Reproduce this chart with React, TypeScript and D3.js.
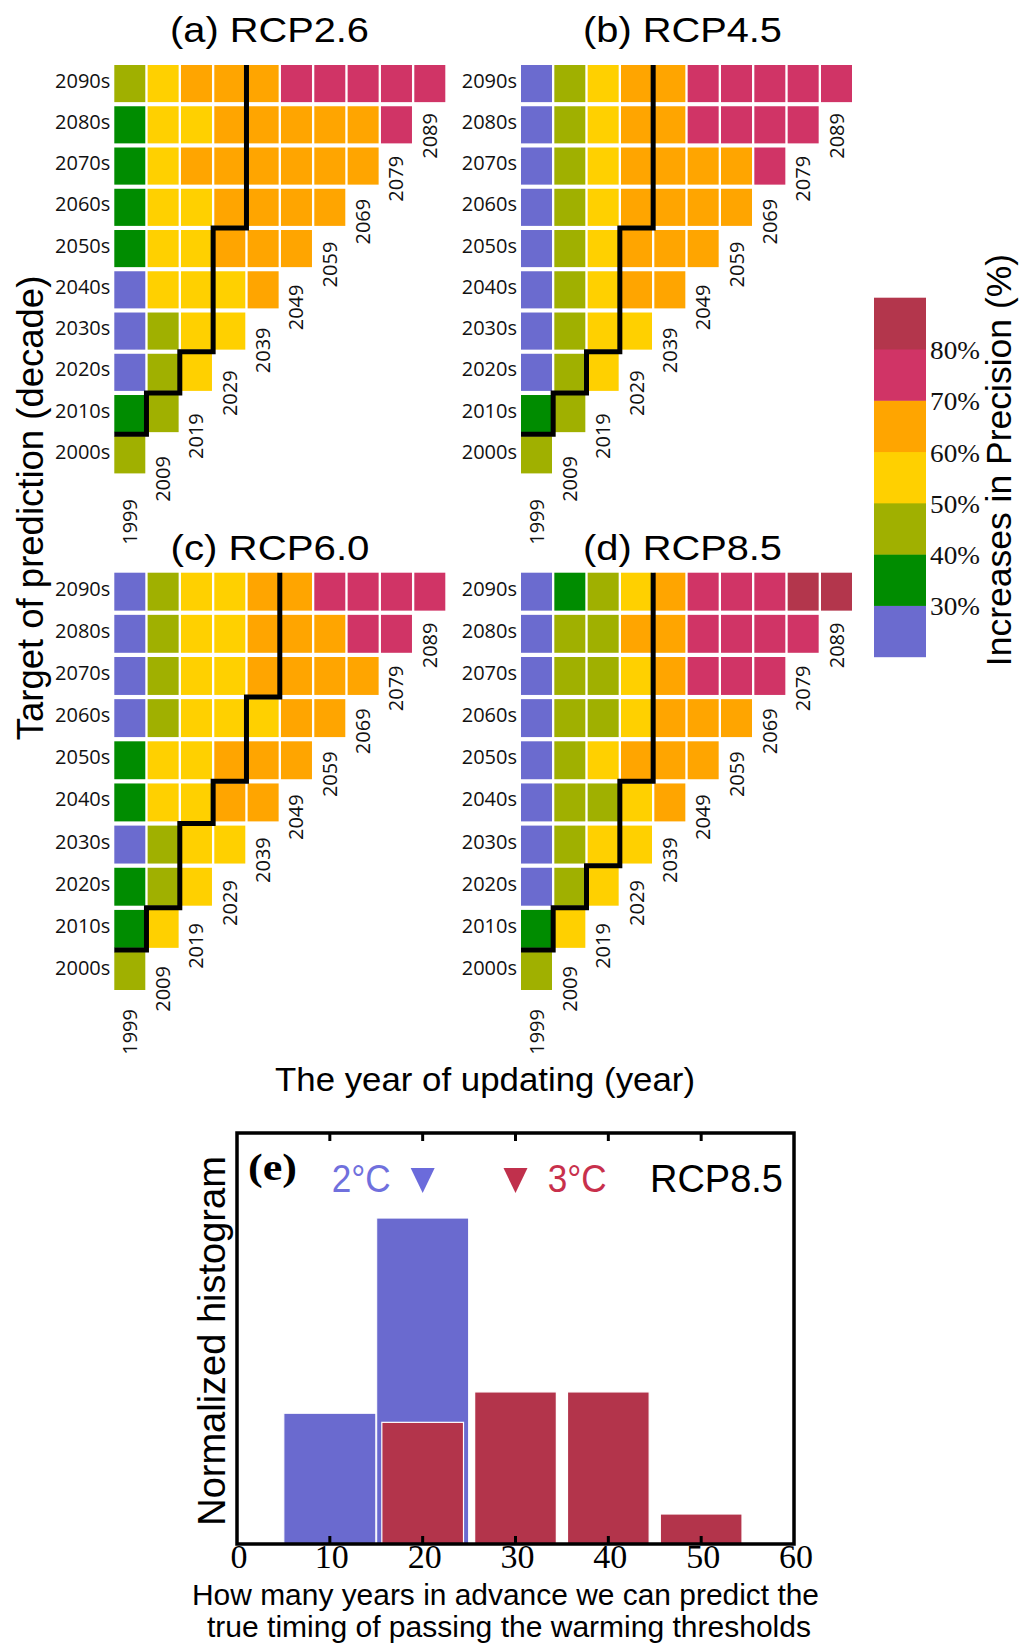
import * as d3 from "d3";

// ---- data ----
const decades = ["2000s", "2010s", "2020s", "2030s", "2040s", "2050s", "2060s", "2070s", "2080s", "2090s"];
const updateYears = ["1999", "2009", "2019", "2029", "2039", "2049", "2059", "2069", "2079", "2089"];
const levelColors = ["#6b6bcf", "#008c00", "#a0b000", "#ffd000", "#ffa500", "#d03466", "#b3364c"];
const levelTicks = ["30%", "40%", "50%", "60%", "70%", "80%"];
const panelTitles = ["(a) RCP2.6", "(b) RCP4.5", "(c) RCP6.0", "(d) RCP8.5"];

// colour class of each cell: one row per target decade (2000s first), one entry per update year
const rcp26 = [
  [2],
  [1, 2],
  [0, 2, 3],
  [0, 2, 3, 3],
  [0, 3, 3, 3, 4],
  [1, 3, 3, 4, 4, 4],
  [1, 3, 3, 4, 4, 4, 4],
  [1, 3, 4, 4, 4, 4, 4, 4],
  [1, 3, 3, 4, 4, 4, 4, 4, 5],
  [2, 3, 4, 4, 4, 5, 5, 5, 5, 5],
];
const rcp45 = [
  [2],
  [1, 2],
  [0, 2, 3],
  [0, 2, 3, 3],
  [0, 2, 3, 4, 4],
  [0, 2, 3, 4, 4, 4],
  [0, 2, 3, 4, 4, 4, 4],
  [0, 2, 3, 4, 4, 4, 4, 5],
  [0, 2, 3, 4, 4, 5, 5, 5, 5],
  [0, 2, 3, 4, 4, 5, 5, 5, 5, 5],
];
const rcp60 = [
  [2],
  [1, 3],
  [1, 2, 3],
  [0, 2, 3, 3],
  [1, 3, 3, 4, 4],
  [1, 3, 3, 4, 4, 4],
  [0, 2, 3, 3, 3, 4, 4],
  [0, 2, 3, 3, 4, 4, 4, 4],
  [0, 2, 3, 3, 4, 4, 4, 5, 5],
  [0, 2, 3, 3, 4, 4, 5, 5, 5, 5],
];
const rcp85 = [
  [2],
  [1, 3],
  [0, 2, 3],
  [0, 2, 3, 3],
  [0, 2, 2, 3, 4],
  [0, 2, 3, 4, 4, 4],
  [0, 2, 2, 3, 4, 4, 4],
  [0, 2, 2, 3, 4, 5, 5, 5],
  [0, 2, 2, 4, 4, 5, 5, 5, 5],
  [0, 1, 2, 3, 4, 5, 5, 5, 6, 6],
];

// column boundary of the black staircase, per target decade
const rcp26Steps = [0, 1, 2, 3, 3, 3, 4, 4, 4, 4];
const rcp45Steps = [0, 1, 2, 3, 3, 3, 4, 4, 4, 4];
const rcp60Steps = [0, 1, 2, 2, 3, 4, 4, 5, 5, 5];
const rcp85Steps = [0, 1, 2, 3, 3, 4, 4, 4, 4, 4];

// histogram (e)
const histTicks = [0, 10, 20, 30, 40, 50, 60];
const bins2C = [10, 20];
const hist2C = [0.318, 0.793];
const bins3C = [20, 30, 40, 50];
const hist3C = [0.296, 0.37, 0.37, 0.073];
const thresholdMarks = [20, 30]; // 2°C, 3°C

const SANS = "'Liberation Sans', Arial, sans-serif";
const SERIF = "'Liberation Serif', 'Times New Roman', serif";
const LABEL = "'Open Sans', sans-serif";

// grid boxes; lab0/lab9 = where the rotated year labels end (under first / last column)
const panelBoxes = [
  { x0: 114.3, x1: 445.3, y0: 65, y1: 473.4, tx: 269.5, ty: 42, lab0: 499, lab9: 113 },
  { x0: 521, x1: 852, y0: 65, y1: 473.4, tx: 682.5, ty: 42, lab0: 499, lab9: 113 },
  { x0: 114.3, x1: 445.3, y0: 572.7, y1: 990, tx: 270, ty: 560, lab0: 1009, lab9: 622.5 },
  { x0: 521, x1: 852, y0: 572.7, y1: 990, tx: 682.5, ty: 560, lab0: 1009, lab9: 622.5 },
];

function Panel({ cells, steps, title, box }: { cells: number[][]; steps: number[]; title: string; box: any }) {
  const x = d3.scaleBand<number>().domain(d3.range(10)).range([box.x0, box.x1]).paddingInner(0.07);
  const y = d3.scaleBand<number>().domain(d3.range(9, -1, -1)).range([box.y0, box.y1]).paddingInner(0.1);
  const labY = d3.scaleLinear().domain([0, 9]).range([box.lab0, box.lab9]);
  const gx = x.step() - x.bandwidth();
  const gy = y.step() - y.bandwidth();
  const xb = (k: number) => (k === 0 ? x(0)! : x(k)! - gx / 2);
  const below = (r: number) => y(r)! + y.bandwidth() + gy / 2;

  const pts: [number, number][] = [];
  for (let r = 1; r < 10; r++) {
    pts.push([xb(steps[r - 1]), below(r)]);
    pts.push([xb(steps[r]), below(r)]);
  }
  pts.push([xb(steps[9]), y(9)!]);
  const stair = d3.line()(pts)!;

  return (
    <g>
      <text x={box.tx} y={box.ty} textAnchor="middle" fontFamily={SANS} fontSize={35}
        textLength={199} lengthAdjust="spacingAndGlyphs">{title}</text>
      {cells.map((row, r) =>
        row.map((c, j) => (
          <rect key={`${r}-${j}`} x={x(j)} y={y(r)} width={x.bandwidth()} height={y.bandwidth()} fill={levelColors[c]} />
        ))
      )}
      {decades.map((d, r) => (
        <text key={d} x={box.x0 - 4} y={y(r)! + y.bandwidth() / 2 + 4} textAnchor="end"
          fontFamily={LABEL} fontSize={20} fill="#111">{d}</text>
      ))}
      {updateYears.map((yr, j) => (
        <text key={yr} transform={`translate(${x(j)! + x.bandwidth() / 2 + 7},${labY(j)}) rotate(-90)`}
          textAnchor="end" fontFamily={LABEL} fontSize={20} fill="#111">{yr}</text>
      ))}
      <path d={stair} fill="none" stroke="#000" strokeWidth={5} strokeLinejoin="miter" />
    </g>
  );
}

function ColorBar() {
  const y = d3.scaleBand<number>().domain(d3.range(6, -1, -1)).range([297.7, 656.7]);
  return (
    <g>
      {levelColors.map((c, i) => (
        <rect key={c} x={874} y={y(i)} width={52} height={y.bandwidth() + 0.5} fill={c} />
      ))}
      {levelTicks.map((t, k) => (
        <text key={t} x={930} y={y(k)! + 10} fontFamily={SERIF} fontSize={25}
          textLength={50} lengthAdjust="spacingAndGlyphs" fill="#111">{t}</text>
      ))}
      <text transform="translate(1011,460) rotate(-90)" textAnchor="middle" fontFamily={SANS} fontSize={35.5}>
        Increases in Precision (%)
      </text>
    </g>
  );
}

function Histogram() {
  const hx = d3.scaleLinear().domain([0, 60]).range([237, 794]);
  const hy = d3.scaleLinear().domain([0, 1]).range([1544, 1133]);
  const blue = "#6a6acf";
  const red = "#b3344b";
  const tri = (v: number) => {
    const cx = hx(v);
    return d3.line()([[cx - 12, 1168], [cx + 12, 1168], [cx, 1193]])! + "Z";
  };
  return (
    <g>
      {bins2C.map((b, i) => (
        <rect key={`b${b}`} x={hx(b - 4.95)} y={hy(hist2C[i])} width={hx(b + 4.95) - hx(b - 4.95)}
          height={hy(0) - hy(hist2C[i])} fill={blue} stroke="#fff" strokeWidth={1} />
      ))}
      {bins3C.map((b, i) => (
        <rect key={`r${b}`} x={hx(b - 4.4)} y={hy(hist3C[i])} width={hx(b + 4.4) - hx(b - 4.4)}
          height={hy(0) - hy(hist3C[i])} fill={red} stroke="#fff" strokeWidth={1.2} />
      ))}
      {histTicks.slice(1, -1).map((t) => (
        <g key={t}>
          <line x1={hx(t)} x2={hx(t)} y1={hy(0)} y2={hy(0) - 8} stroke="#000" strokeWidth={3} />
          <line x1={hx(t)} x2={hx(t)} y1={hy(1)} y2={hy(1) + 8} stroke="#000" strokeWidth={3} />
        </g>
      ))}
      <rect x={hx(0)} y={hy(1)} width={hx(60) - hx(0)} height={hy(0) - hy(1)} fill="none" stroke="#000" strokeWidth={3.5} />
      {histTicks.map((t) => (
        <text key={t} x={hx(t) + 2} y={1568} textAnchor="middle" fontFamily={SERIF} fontSize={34}>{t}</text>
      ))}
      <text x={248} y={1180} fontFamily={SERIF} fontWeight="bold" fontSize={37}
        textLength={49} lengthAdjust="spacingAndGlyphs">(e)</text>
      <text x={331.7} y={1191.5} fontFamily={SANS} fontSize={39} fill="#7070dd"
        textLength={59} lengthAdjust="spacingAndGlyphs">2°C</text>
      <path d={tri(thresholdMarks[0])} fill="#6b6bdb" />
      <path d={tri(thresholdMarks[1])} fill="#c0304c" />
      <text x={547.7} y={1191.5} fontFamily={SANS} fontSize={39} fill="#c8304c"
        textLength={59} lengthAdjust="spacingAndGlyphs">3°C</text>
      <text x={650} y={1191.5} fontFamily={SANS} fontSize={39}
        textLength={133} lengthAdjust="spacingAndGlyphs">RCP8.5</text>
      <text transform="translate(225,1341) rotate(-90)" textAnchor="middle" fontFamily={SANS} fontSize={38}>
        Normalized histogram
      </text>
      <text x={505.5} y={1605} textAnchor="middle" fontFamily={SANS} fontSize={30}
        textLength={627} lengthAdjust="spacingAndGlyphs">How many years in advance we can predict the</text>
      <text x={509} y={1637} textAnchor="middle" fontFamily={SANS} fontSize={30}
        textLength={604} lengthAdjust="spacingAndGlyphs">true timing of passing the warming thresholds</text>
    </g>
  );
}

export default function App() {
  const sets = [
    { cells: rcp26, steps: rcp26Steps },
    { cells: rcp45, steps: rcp45Steps },
    { cells: rcp60, steps: rcp60Steps },
    { cells: rcp85, steps: rcp85Steps },
  ];
  return (
    <svg width={1020} height={1644} viewBox="0 0 1020 1644"
      style={{ position: "absolute", left: 0, top: 0, background: "#fff" }}>
      <rect width={1020} height={1644} fill="#fff" />
      {sets.map((s, i) => (
        <Panel key={i} cells={s.cells} steps={s.steps} title={panelTitles[i]} box={panelBoxes[i]} />
      ))}
      <text transform="translate(43,508) rotate(-90)" textAnchor="middle" fontFamily={SANS} fontSize={36.5}>
        Target of prediction (decade)
      </text>
      <text x={485} y={1091} textAnchor="middle" fontFamily={SANS} fontSize={33}
        textLength={420} lengthAdjust="spacingAndGlyphs">The year of updating (year)</text>
      <ColorBar />
      <Histogram />
    </svg>
  );
}
